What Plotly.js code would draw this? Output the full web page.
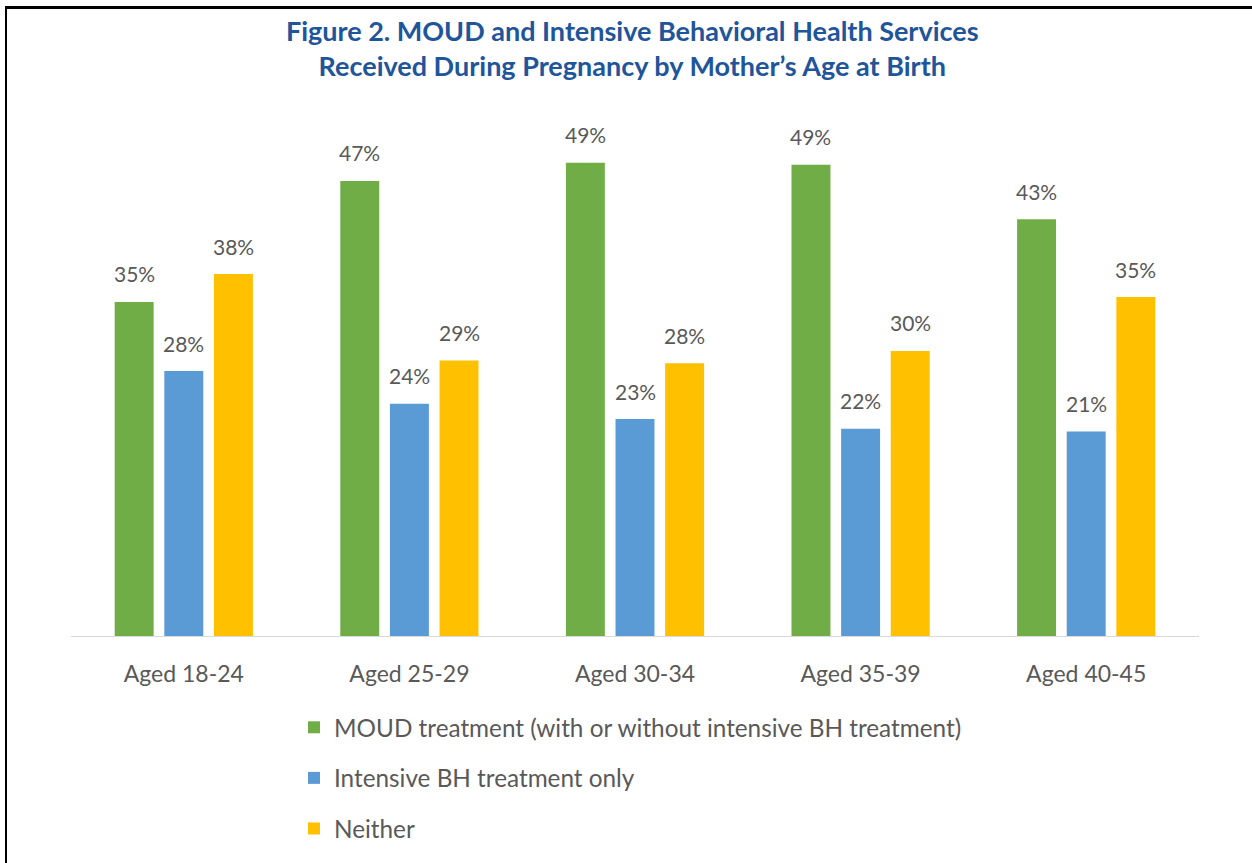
<!DOCTYPE html>
<html>
<head>
<meta charset="utf-8">
<script src="https://cdn.plot.ly/plotly-3.0.1.min.js"></script>
<style>
  html, body { margin: 0; padding: 0; background: #fff; }
  #wrap { position: relative; width: 1252px; height: 863px; overflow: hidden; }
  #chart { position: absolute; left: 0; top: 0; width: 1252px; height: 863px; }
  #frame { position: absolute; left: 5px; top: 6px; right: -10px; bottom: -10px;
           border-left: 2.5px solid #000; border-top: 3px solid #000; pointer-events: none; }
</style>
</head>
<body>
<div id="wrap">
  <div id="chart"></div>
  <div id="frame"></div>
</div>
<script>
// ---- data ----
const categories = ["Aged 18-24", "Aged 25-29", "Aged 30-34", "Aged 35-39", "Aged 40-45"];
const seriesNames = [
  "MOUD treatment (with or without intensive BH treatment)",
  "Intensive BH treatment only",
  "Neither"
];
const moudValues    = [34.8, 47.4, 49.3, 49.1, 43.4];
const intensiveBH   = [27.6, 24.2, 22.6, 21.6, 21.3];
const neitherValues = [37.7, 28.7, 28.4, 29.7, 35.3];
const seriesColors  = ["#70AD47", "#5B9BD5", "#FFC000"];

const seriesValues = [moudValues, intensiveBH, neitherValues];
const FONT = "Lato, 'Open Sans', sans-serif";
const GRAY = "#595959";
const bargap = 0.34;
const slot = (1 - bargap) / seriesValues.length;

const traces = seriesValues.map((vals, i) => ({
  type: "bar",
  name: seriesNames[i],
  x: categories,
  y: vals,
  marker: { color: seriesColors[i] },
  legendgroup: "g" + i,
  hoverinfo: "skip"
}));

const annotations = [];
seriesValues.forEach((vals, i) => {
  vals.forEach((v, j) => {
    annotations.push({
      x: j + (i - 1) * slot,
      y: v,
      xref: "x", yref: "y",
      text: Math.round(v) + "%",
      showarrow: false,
      yanchor: "middle",
      yshift: 28,
      font: { family: FONT, size: 21, color: GRAY }
    });
  });
});

const W = 1252, H = 863;
const mL = 71, mR = 53, mT = 108, mB = 227;
const plotW = W - mL - mR, plotH = H - mT - mB;

const layout = {
  width: W, height: H,
  paper_bgcolor: "#fff", plot_bgcolor: "#fff",
  margin: { l: mL, r: mR, t: mT, b: mB, autoexpand: false },
  title: {
    text: "<b>Figure 2. MOUD and Intensive Behavioral Health Services<br>Received During Pregnancy by Mother’s Age at Birth</b>",
    x: 0.505, xanchor: "center",
    y: 1 - 41 / H, yanchor: "middle",
    font: { family: FONT, size: 27, color: "#1F559A" }
  },
  barmode: "group",
  bargap: bargap,
  bargroupgap: 0.215,
  xaxis: {
    type: "category",
    showline: true, linecolor: "#D9D9D9", linewidth: 1,
    ticks: "", showgrid: false, zeroline: false,
    tickfont: { family: FONT, size: 23, color: GRAY },
    tickangle: 0,
    automargin: false,
    ticklabelstandoff: 17
  },
  yaxis: {
    range: [0, 55],
    visible: false, showgrid: false, zeroline: false, automargin: false
  },
  showlegend: true,
  legend: {
    x: (294 - mL) / plotW, y: -(705 - (H - mB)) / plotH,
    xanchor: "left", yanchor: "top",
    orientation: "v",
    traceorder: "grouped",
    tracegroupgap: 16,
    font: { family: FONT, size: 24.3, color: GRAY },
    bgcolor: "rgba(0,0,0,0)"
  },
  annotations: annotations
};

Plotly.newPlot("chart", traces, layout, { displayModeBar: false, staticPlot: true });
</script>
</body>
</html>
